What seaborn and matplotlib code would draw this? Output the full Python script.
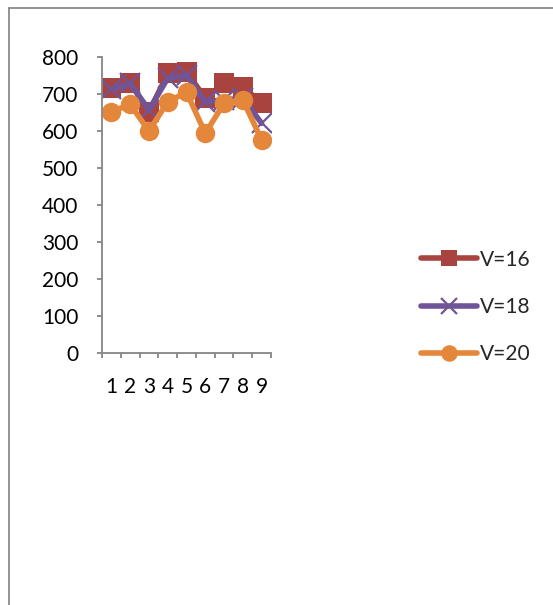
import matplotlib
matplotlib.use("Agg")
import matplotlib.pyplot as plt
from matplotlib.lines import Line2D
import numpy as np
import pandas as pd
import seaborn as sns

# Data
points = [1, 2, 3, 4, 5, 6, 7, 8, 9]
v16 = [715, 730, 650, 755, 759, 688, 728, 719, 674]
v18 = [712, 728, 656, 742, 750, 678, 683, 688, 620]
v20 = [651, 671, 599, 678, 704, 593, 674, 683, 575]
series_names = ["V=16", "V=18", "V=20"]
y_ticks = [0, 100, 200, 300, 400, 500, 600, 700, 800]

sns.set_theme(style="white")
plt.rcParams["font.family"] = ["Lato", "DejaVu Sans"]

W, H, DPI = 553, 605, 100
fig = plt.figure(figsize=(W / DPI, H / DPI), dpi=DPI)
fig.patch.set_facecolor("white")

ax = fig.add_axes([102 / W, 1 - 352.7 / H, (271 - 102) / W, (352.7 - 56.7) / H])

df = pd.DataFrame({"x": points * 3,
                   "y": v16 + v18 + v20,
                   "series": np.repeat(series_names, len(points))})

styles = {
    "V=16": dict(color="#A9433F", marker="s", markersize=14,
                 markeredgewidth=0, markeredgecolor="#A9433F", markerfacecolor="#A9433F"),
    "V=18": dict(color="#6F5597", marker="x", markersize=14,
                 markeredgewidth=1.6, markeredgecolor="#6F5597", markerfacecolor="#6F5597"),
    "V=20": dict(color="#E5873B", marker="o", markersize=14,
                 markeredgewidth=0, markeredgecolor="#E5873B", markerfacecolor="#E5873B"),
}

for name in series_names:
    sub = df[df["series"] == name]
    sns.lineplot(data=sub, x="x", y="y", ax=ax, linewidth=4,
                 label=name, legend=False, solid_capstyle="round",
                 solid_joinstyle="round", **styles[name])

axis_col = "#868686"
ax.set_xlim(0.5, 9.5)
ax.set_ylim(0, 800)
ax.set_yticks(y_ticks)
ax.set_xticks(points)
ax.set_xticks(np.arange(0.5, 10.0, 1.0), minor=True)
ax.set_xlabel("")
ax.set_ylabel("")

for side in ["top", "right"]:
    ax.spines[side].set_visible(False)
for side in ["left", "bottom"]:
    ax.spines[side].set_color(axis_col)
    ax.spines[side].set_linewidth(1.3)

ax.tick_params(axis="y", which="major", direction="out", length=3.6, width=1.3,
               color=axis_col, labelsize=15, pad=13.5, labelcolor="black", left=True)
ax.tick_params(axis="x", which="major", length=0, labelsize=15, pad=17.5,
               labelcolor="black", bottom=True)
ax.tick_params(axis="x", which="minor", direction="out", length=3.6, width=1.3,
               color=axis_col, bottom=True)

handles = [Line2D([], [], linewidth=4, solid_capstyle="round", **styles[n]) for n in series_names]
fig.legend(handles, series_names, loc="center left",
           bbox_to_anchor=(421 / W, 1 - 307 / H), frameon=False,
           fontsize=15, handlelength=2.7, handletextpad=0.15,
           labelspacing=1.32, markerscale=0.85, borderaxespad=0, borderpad=0)

# Outer chart border (top and left edges)
fig.add_artist(Line2D([8.5 / W, 8.5 / W], [0, 1 - 7.5 / H], transform=fig.transFigure,
                      color="#8A8A8A", linewidth=1.3))
fig.add_artist(Line2D([8.5 / W, 1], [1 - 7.5 / H, 1 - 7.5 / H], transform=fig.transFigure,
                      color="#8A8A8A", linewidth=1.3))

fig.savefig("out.png", dpi=DPI)
